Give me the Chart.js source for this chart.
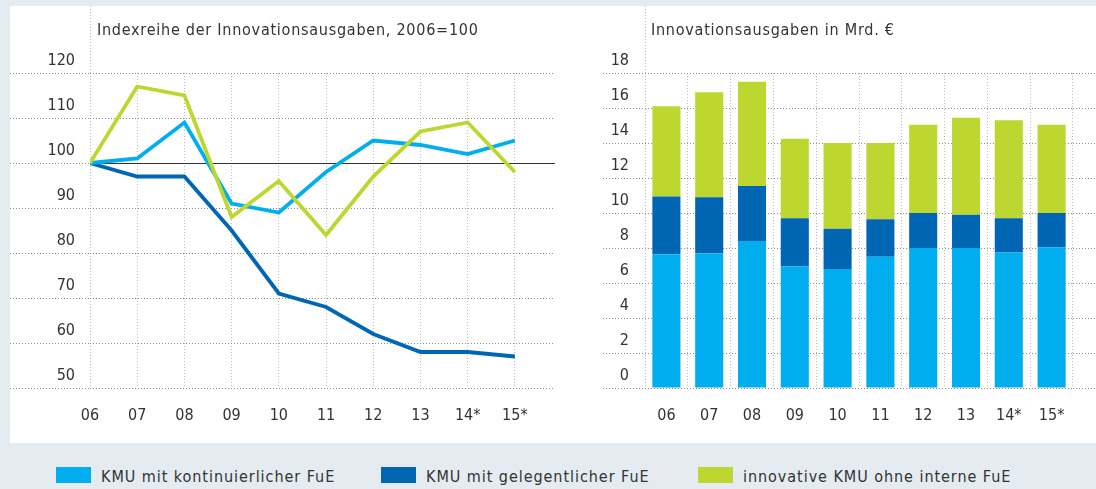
<!DOCTYPE html>
<html lang="de">
<head>
<meta charset="utf-8">
<script src="https://cdn.jsdelivr.net/npm/chart.js@4/dist/chart.umd.min.js"></script>
<style>
  body { margin: 0; width: 1096px; height: 489px; overflow: hidden; background: #e4ecf2; position: relative;
         font-family: "DejaVu Sans Condensed", "DejaVu Sans", sans-serif; color: #333; }
  .panel { position: absolute; left: 10px; top: 6px; width: 1086px; height: 437px; background: #fff; }
  .box { position: absolute; top: 6px; }
  .title { position: absolute; top: 20px; font-size: 16px; line-height: 20px; white-space: nowrap; letter-spacing: 0.75px; }
  .legend-item { position: absolute; top: 467px; height: 20px; font-size: 16px; line-height: 20px; white-space: nowrap; letter-spacing: 0.95px; }
  .legend-item span.sw { position: absolute; left: 0; top: 0; width: 35px; height: 16px; }
  .legend-item span.tx { position: absolute; left: 45px; top: 0; }
</style>
</head>
<body>
<div class="panel"></div>
<div class="box" style="left:10px"><canvas id="indexChart" width="550" height="437"></canvas></div>
<div class="box" style="left:603px"><canvas id="barChart" width="493" height="437"></canvas></div>
<div class="title" style="left:97px">Indexreihe der Innovationsausgaben, 2006=100</div>
<div class="title" style="left:651px">Innovationsausgaben in Mrd. €</div>
<div id="legend"></div>

<script>
// years on the x axis
const years = ["06", "07", "08", "09", "10", "11", "12", "13", "14*", "15*"];

// left chart: index 2006 = 100
const indexBase = 100;
const indexContinuous = [100, 101, 109, 91, 89, 98, 105, 104, 102, 105];
const indexOccasional = [100, 97, 97, 85, 71, 68, 62, 58, 58, 57];
const indexNoRnd = [100, 117, 115, 88, 96, 84, 97, 107, 109, 98];

// right chart: innovation spending in bn EUR (stack pieces)
const spendContinuous = [7.65, 7.7, 8.4, 6.95, 6.8, 7.5, 8.0, 8.0, 7.75, 8.05];
const spendOccasional = [3.3, 3.2, 3.15, 2.75, 2.3, 2.15, 2.0, 1.9, 1.95, 1.95];
const spendNoRnd = [5.15, 6.0, 5.95, 4.55, 4.9, 4.35, 5.05, 5.55, 5.6, 5.05];

const seriesNames = ["KMU mit kontinuierlicher FuE", "KMU mit gelegentlicher FuE", "innovative KMU ohne interne FuE"];
const seriesColors = ["#00aeef", "#0066b3", "#bed630"];

const FONT = { family: "'DejaVu Sans Condensed', 'DejaVu Sans', sans-serif", size: 16 };
const TEXT = "#333";
const GRID_H = "#8c8c8c";
const GRID_V = "#bdbdbd";

// dotted line from the top of the panel down to the chart area, on the y axis
const axisTopLine = {
    id: "axisTopLine",
    beforeDraw(chart) {
        const { ctx, chartArea } = chart;
        const x = Math.round(chartArea.left) + 0.5;
        ctx.save();
        ctx.strokeStyle = GRID_V;
        ctx.lineWidth = 1;
        ctx.setLineDash([1, 2]);
        ctx.beginPath();
        ctx.moveTo(x, 0);
        ctx.lineTo(x, chartArea.top);
        ctx.stroke();
        ctx.restore();
    }
};

// solid line at the index base (2006 = 100)
const baseLine = {
    id: "baseLine",
    beforeDatasetsDraw(chart) {
        const { ctx, chartArea } = chart;
        const y = Math.round(chart.scales.y.getPixelForValue(indexBase)) + 0.5;
        ctx.save();
        ctx.strokeStyle = "#333";
        ctx.lineWidth = 1;
        ctx.beginPath();
        ctx.moveTo(chartArea.left, y);
        ctx.lineTo(chartArea.right, y);
        ctx.stroke();
        ctx.restore();
    }
};

function toPoints(values) {
    return values.map((v, i) => ({ x: i, y: v }));
}

new Chart(document.getElementById("indexChart"), {
    type: "line",
    data: {
        datasets: [
            { data: toPoints(indexContinuous), borderColor: seriesColors[0], order: 2 },
            { data: toPoints(indexOccasional), borderColor: seriesColors[1], order: 3 },
            { data: toPoints(indexNoRnd), borderColor: seriesColors[2], order: 1 }
        ]
    },
    options: {
        responsive: false,
        devicePixelRatio: 1,
        animation: false,
        layout: { padding: { top: 67, right: 5, left: 0, bottom: 0 } },
        elements: {
            line: { borderWidth: 3.8, tension: 0, fill: false },
            point: { radius: 0 }
        },
        plugins: { legend: { display: false }, tooltip: { enabled: false } },
        scales: {
            x: {
                type: "linear",
                min: 0,
                max: 9.85,
                afterFit: s => { s.height = 55; },
                border: { display: false, dash: [1, 2] },
                grid: { color: GRID_V, drawTicks: false },
                ticks: {
                    stepSize: 1,
                    includeBounds: false,
                    autoSkip: false,
                    maxRotation: 0,
                    padding: 18,
                    color: TEXT,
                    font: FONT,
                    callback: v => years[v]
                }
            },
            y: {
                min: 50,
                max: 120,
                afterFit: s => { s.width = 80; },
                border: { display: false, dash: [1, 2] },
                grid: { color: GRID_H, tickLength: 80, tickBorderDash: [1, 2], tickColor: GRID_H },
                ticks: { stepSize: 10, padding: -65, labelOffset: -12, color: TEXT, font: FONT }
            }
        }
    },
    plugins: [axisTopLine, baseLine]
});

new Chart(document.getElementById("barChart"), {
    type: "bar",
    data: {
        labels: years,
        datasets: [
            { data: spendContinuous, backgroundColor: seriesColors[0] },
            { data: spendOccasional, backgroundColor: seriesColors[1] },
            { data: spendNoRnd, backgroundColor: seriesColors[2] }
        ]
    },
    options: {
        responsive: false,
        devicePixelRatio: 1,
        animation: false,
        layout: { padding: { top: 67, right: 0, left: 0, bottom: 0 } },
        datasets: { bar: { barPercentage: 0.656, categoryPercentage: 1 } },
        plugins: { legend: { display: false }, tooltip: { enabled: false } },
        scales: {
            x: {
                stacked: true,
                afterFit: s => { s.height = 55; },
                border: { display: false, dash: [1, 2] },
                grid: { color: GRID_V, drawTicks: false, offset: true },
                ticks: { padding: 18, maxRotation: 0, color: TEXT, font: FONT }
            },
            y: {
                stacked: true,
                min: 0,
                max: 18,
                afterFit: s => { s.width = 42; },
                border: { display: false, dash: [1, 2] },
                grid: { color: GRID_H, tickLength: 42, tickBorderDash: [1, 2], tickColor: GRID_H },
                ticks: { stepSize: 2, padding: -26, labelOffset: -12, color: TEXT, font: FONT }
            },
            // only carries the dotted grid ticks on to the right edge
            y2: {
                position: "right",
                min: 0,
                max: 18,
                afterFit: s => { s.width = 23; },
                border: { display: false },
                grid: { drawOnChartArea: false, tickLength: 23, tickBorderDash: [1, 2], tickColor: GRID_H },
                ticks: { stepSize: 2, display: false }
            }
        }
    },
    plugins: [axisTopLine]
});

// legend below the panel
const legendX = [56, 381, 698];
const legend = document.getElementById("legend");
seriesNames.forEach((name, i) => {
    const item = document.createElement("div");
    item.className = "legend-item";
    item.style.left = legendX[i] + "px";
    item.innerHTML = `<span class="sw" style="background:${seriesColors[i]}"></span><span class="tx">${name}</span>`;
    legend.appendChild(item);
});
</script>
</body>
</html>
